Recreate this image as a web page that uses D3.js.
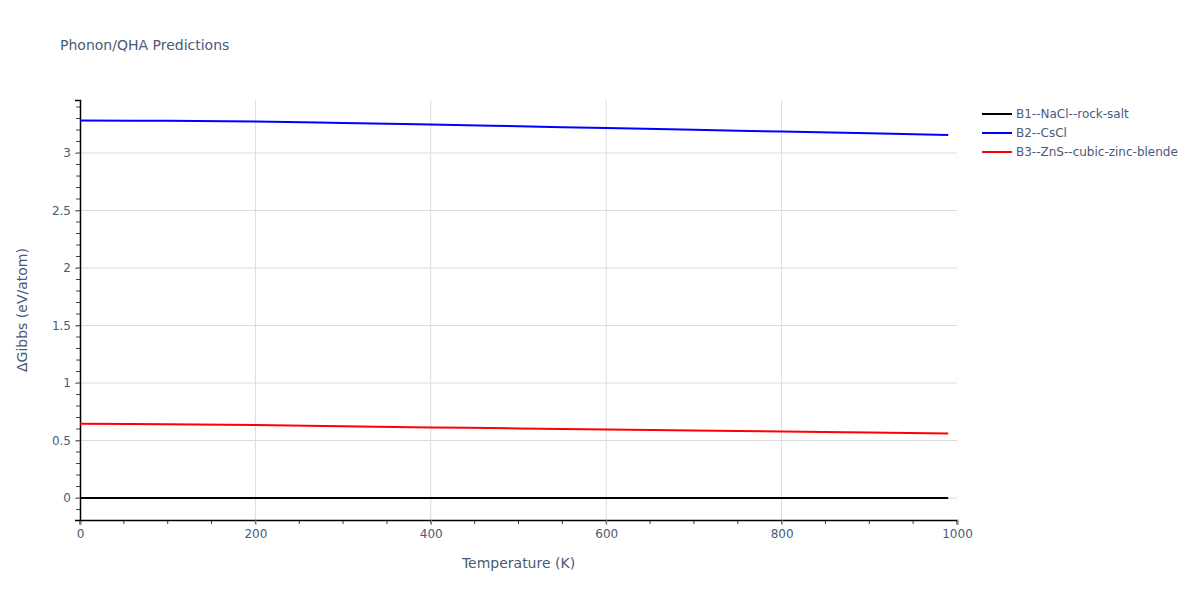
<!DOCTYPE html>
<html lang="en">
<head>
<meta charset="UTF-8">
<title>Phonon/QHA Predictions</title>
<script src="https://d3js.org/d3.v7.min.js"></script>
<style>
  body { margin: 0; background: #fff; }
  text { font-family: "DejaVu Sans", Verdana, sans-serif; }
</style>
</head>
<body>
<div id="chart"></div>
<script>
// temperatures (K)
const temps = [0, 100, 200, 300, 400, 500, 600, 700, 800, 900, 990];
const rockSalt = [0, 0, 0, 0, 0, 0, 0, 0, 0, 0, 0];
const csCl = [3.283, 3.280, 3.274, 3.262, 3.248, 3.233, 3.217, 3.202, 3.187, 3.172, 3.157];
const zincBlende = [0.645, 0.641, 0.635, 0.624, 0.614, 0.605, 0.596, 0.587, 0.578, 0.569, 0.561];
const seriesNames = ["B1--NaCl--rock-salt", "B2--CsCl", "B3--ZnS--cubic-zinc-blende"];
const seriesColors = ["black", "blue", "red"];
const xTicks = [0, 200, 400, 600, 800, 1000];
const yTicks = [0, 0.5, 1, 1.5, 2, 2.5, 3];

const W = 1200, H = 600;
const margin = { top: 100, right: 243, bottom: 80, left: 80 };
const width = W - margin.left - margin.right;
const height = H - margin.top - margin.bottom;
const textColor = "#4a5a78";

const svg = d3.select("#chart").append("svg")
  .attr("width", W).attr("height", H);

const g = svg.append("g")
  .attr("transform", `translate(${margin.left},${margin.top})`);

const x = d3.scaleLinear().domain([0, 1000]).range([0, width]);
const y = d3.scaleLinear().domain([-0.191, 3.461]).range([height, 0]);

// grid
g.append("g").selectAll("line")
  .data(xTicks.filter(d => d > 0 && d < 1000))
  .enter().append("line")
  .attr("x1", d => x(d)).attr("x2", d => x(d))
  .attr("y1", 0).attr("y2", height)
  .attr("stroke", "#dcdcdc").attr("stroke-width", 1);

g.append("g").selectAll("line")
  .data(yTicks)
  .enter().append("line")
  .attr("x1", 0).attr("x2", width)
  .attr("y1", d => y(d)).attr("y2", d => y(d))
  .attr("stroke", "#dcdcdc").attr("stroke-width", 1);

// minor ticks
const xMinor = d3.range(0, 1001, 50);
const yMinor = d3.range(-1, 35).map(d => d / 10);

g.append("g").selectAll("line")
  .data(xMinor)
  .enter().append("line")
  .attr("x1", d => x(d)).attr("x2", d => x(d))
  .attr("y1", height).attr("y2", height + 4)
  .attr("stroke", "#444");

g.append("g").selectAll("line")
  .data(yMinor)
  .enter().append("line")
  .attr("x1", -4).attr("x2", 0)
  .attr("y1", d => y(d)).attr("y2", d => y(d))
  .attr("stroke", "#444");

// axes
const xAxis = g.append("g")
  .attr("transform", `translate(0,${height})`)
  .call(d3.axisBottom(x).tickValues(xTicks).tickSize(5).tickPadding(4).tickFormat(d3.format("d")));
const yAxis = g.append("g")
  .call(d3.axisLeft(y).tickValues(yTicks).tickSize(5).tickPadding(4).tickFormat(d => d));

[xAxis, yAxis].forEach(ax => {
  ax.select(".domain").attr("stroke", "black").attr("stroke-width", 1.5);
  ax.selectAll(".tick line").attr("stroke", "#888");
  ax.selectAll(".tick text")
    .attr("fill", textColor)
    .style("font-size", "12px")
    .style("font-family", "'DejaVu Sans', Verdana, sans-serif");
});

// lines
const line = d3.line()
  .x((d, i) => x(temps[i]))
  .y(d => y(d))
  .curve(d3.curveMonotoneX);

[rockSalt, csCl, zincBlende].forEach((vals, i) => {
  g.append("path")
    .datum(vals)
    .attr("fill", "none")
    .attr("stroke", seriesColors[i])
    .attr("stroke-width", 2)
    .attr("d", line);
});

// titles
svg.append("text")
  .attr("x", 60).attr("y", 50)
  .attr("fill", textColor)
  .style("font-size", "14px")
  .text("Phonon/QHA Predictions");

svg.append("text")
  .attr("x", margin.left + width / 2).attr("y", 568)
  .attr("text-anchor", "middle")
  .attr("fill", textColor)
  .style("font-size", "14px")
  .text("Temperature (K)");

svg.append("text")
  .attr("transform", `translate(27,${margin.top + height / 2}) rotate(-90)`)
  .attr("text-anchor", "middle")
  .attr("fill", textColor)
  .style("font-size", "14px")
  .text("ΔGibbs (eV/atom)");

// legend
const legend = svg.append("g").attr("transform", "translate(982,114)");
seriesNames.forEach((name, i) => {
  const row = legend.append("g").attr("transform", `translate(0,${i * 19})`);
  row.append("line")
    .attr("x1", 0).attr("x2", 30)
    .attr("stroke", seriesColors[i]).attr("stroke-width", 2);
  row.append("text")
    .attr("x", 34).attr("y", 4)
    .attr("fill", textColor)
    .style("font-size", "12px")
    .text(name);
});
</script>
</body>
</html>
